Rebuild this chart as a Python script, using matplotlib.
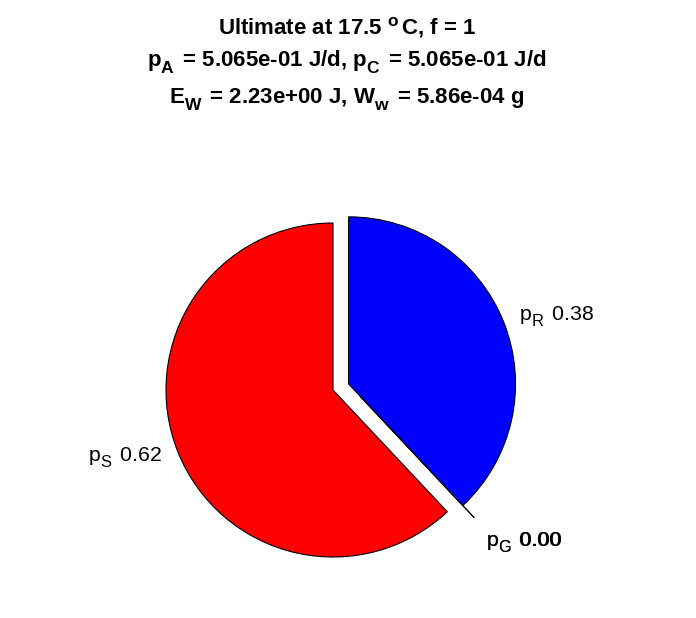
import numpy as np
import matplotlib
matplotlib.use("Agg")
import matplotlib.pyplot as plt
import matplotlib._mathtext as _mt

plt.rcParams['font.family'] = ['Liberation Sans', 'DejaVu Sans']
plt.rcParams['mathtext.fontset'] = 'custom'
plt.rcParams['mathtext.rm'] = 'Liberation Sans'
plt.rcParams['mathtext.it'] = 'Liberation Sans:italic'
plt.rcParams['mathtext.bf'] = 'Liberation Sans:bold'

# MATLAB-like (bigger, lower) subscripts
_mt.SHRINK_FACTOR = 0.78
for _name in dir(_mt):
    _obj = getattr(_mt, _name)
    if isinstance(_obj, type) and _name.endswith('FontConstants') or _name == 'FontConstantsBase':
        try:
            _obj.sub1 = 0.62
            _obj.script_space = 0.25
        except Exception:
            pass

# data (counter-clockwise from 12 o'clock)
names = ['S', 'G', 'C', 'R']
fractions = [0.62, 0.0, 0.0, 0.38]
colors = ['#ff0000', '#ffff00', '#00ffff', '#0000ff']
explode = [0.0, 0.1, 0.1, 0.1]
title_lines = [
    r'Ultimate at 17.5 $^\mathbf{o}$C, f = 1',
    r'$\mathbf{p}_\mathbf{A}$ = 5.065e-01 J/d, $\mathbf{p}_\mathbf{C}$ = 5.065e-01 J/d',
    r'$\mathbf{E}_\mathbf{W}$ = 2.23e+00 J, $\mathbf{W}_\mathbf{w}$ = 5.86e-04 g',
]

labels = [r'$\mathrm{p}_\mathrm{%s}$ %.2f' % (n, f) for n, f in zip(names, fractions)]

W, H = 696, 618
fig = plt.figure(figsize=(W / 100, H / 100), dpi=100)
ax = fig.add_axes([0, 0, 1, 1])

wedges, texts = ax.pie(fractions, labels=labels, colors=colors, explode=explode,
                       startangle=90, counterclock=True, labeldistance=1.1,
                       normalize=False,
                       wedgeprops=dict(edgecolor='black', linewidth=0.8),
                       textprops=dict(fontsize=15.3))

# zero-size slices: MATLAB stacks them onto the exploded R slice edge
rc = np.array(wedges[3].center)
for i in (1, 2):
    th = np.deg2rad(wedges[i].theta1)
    d = np.array([np.cos(th), np.sin(th)])
    c = rc + 0.1 * d
    wedges[i].set_center(tuple(c))
    p = rc + 1.2 * d
    texts[i].set_position(tuple(p))
    texts[i].set_va('top')
    texts[i].set_ha('left')

cx, cy, scale = 333, 390, 167.0
ax.set_xlim(-cx / scale, (W - cx) / scale)
ax.set_ylim(-(H - cy) / scale, cy / scale)
ax.set_aspect('auto')
ax.axis('off')

ys = [34.5, 66.7, 104]
for t, y in zip(title_lines, ys):
    fig.text(347 / W, 1 - y / H, t, ha='center', va='baseline',
             fontsize=16, fontweight='bold')

fig.savefig('out.png', dpi=100)
